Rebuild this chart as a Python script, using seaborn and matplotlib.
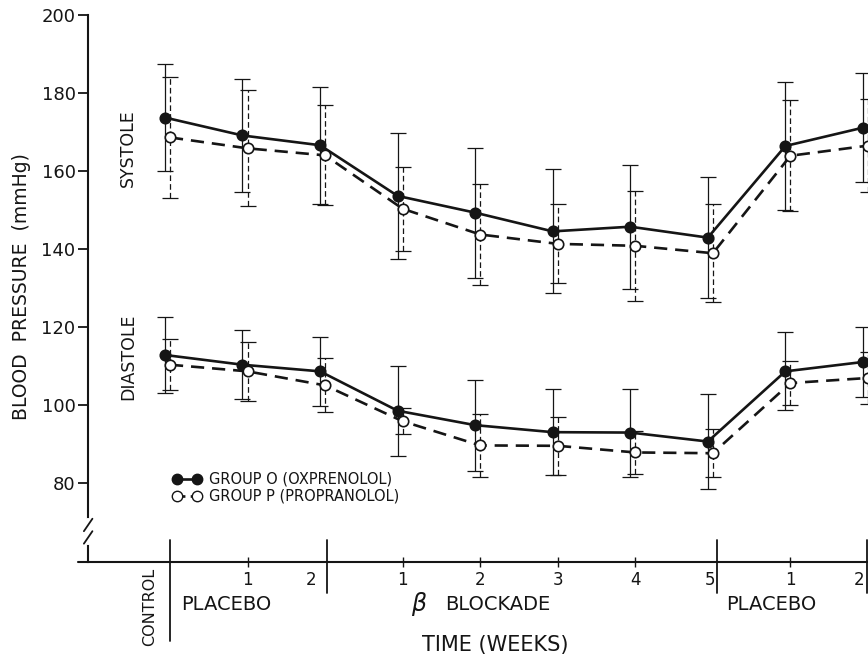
import numpy as np
import pandas as pd
import matplotlib.pyplot as plt
from matplotlib.lines import Line2D
import seaborn as sns

# periods along the time axis: control, placebo 1-2, beta blockade 1-5, placebo 1-2
periods = ['Control', 'Placebo 1', 'Placebo 2', 'Blockade 1', 'Blockade 2',
           'Blockade 3', 'Blockade 4', 'Blockade 5', 'Placebo 1b', 'Placebo 2b']

# systolic pressure (mmHg), mean and SD
sys_o = [173.7, 169.1, 166.6, 153.6, 149.3, 144.5, 145.7, 142.9, 166.4, 171.1]
sys_o_sd = [13.8, 14.6, 15.0, 16.2, 16.7, 15.9, 15.9, 15.6, 16.4, 13.9]
sys_p = [168.6, 165.8, 164.0, 150.3, 143.7, 141.3, 140.8, 138.9, 163.9, 166.5]
sys_p_sd = [15.6, 14.9, 12.8, 10.8, 13.0, 10.1, 14.1, 12.5, 14.2, 11.9]

# diastolic pressure (mmHg), mean and SD
dia_o = [112.8, 110.3, 108.6, 98.5, 94.8, 93.0, 92.9, 90.6, 108.6, 111.0]
dia_o_sd = [9.8, 8.8, 8.9, 11.6, 11.7, 11.0, 11.3, 12.1, 10.0, 9.0]
dia_p = [110.3, 108.6, 105.0, 95.8, 89.6, 89.5, 87.8, 87.6, 105.6, 106.9]
dia_p_sd = [6.5, 7.6, 6.9, 3.3, 8.1, 7.4, 5.6, 6.2, 5.7, 6.7]

yticks = [80, 100, 120, 140, 160, 180, 200]
week_ticks = [1, 3, 4, 5, 6, 8]
week_labels = ['1', '1', '2', '3', '4', '1']

sns.set_style('white')
plt.rcParams['font.family'] = ['DejaVu Sans']
ink = '#151515'

fig = plt.figure(figsize=(8.68, 6.6), dpi=100)
ax = fig.add_axes([88 / 868, 1 - 562 / 660, 1 - 88 / 868, (562 - 15) / 660])

x = np.arange(len(periods))
xo = x - 0.065  # filled points sit a little left of the open ones

df = pd.DataFrame({'x': np.concatenate([xo, x, xo, x]),
                   'bp': sys_o + sys_p + dia_o + dia_p,
                   'sd': sys_o_sd + sys_p_sd + dia_o_sd + dia_p_sd,
                   'group': ['O'] * 10 + ['P'] * 10 + ['O'] * 10 + ['P'] * 10,
                   'phase': ['sys'] * 20 + ['dia'] * 20})

for (phase, group), d in df.groupby(['phase', 'group']):
    solid = group == 'O'
    eb = ax.errorbar(d['x'], d['bp'], yerr=d['sd'], fmt='none', ecolor=ink,
                     elinewidth=0.9, capsize=6, capthick=0.9, zorder=2)
    if not solid:
        eb[2][0].set_linestyle((0, (4.5, 2.5)))
    sns.lineplot(data=d, x='x', y='bp', ax=ax, sort=False, errorbar=None,
                 color=ink, lw=1.9, marker='o', markersize=7.5,
                 markerfacecolor=ink if solid else 'white',
                 markeredgecolor=ink, markeredgewidth=1.2,
                 linestyle='-' if solid else (0, (5, 3)), zorder=3)

ax.set_xlim(-1.057, 9.0)
ax.set_ylim(59.7, 200)
ax.set_xlabel('')
ax.set_ylabel('')
ax.set_yticks(yticks)
ax.tick_params(axis='y', direction='out', length=7, width=1.3, pad=2,
               labelsize=13, colors=ink, left=True)
ax.set_xticks(week_ticks, week_labels)
ax.tick_params(axis='x', direction='inout', length=7, width=1.0, pad=3,
               labelsize=12, colors=ink, bottom=True)
for s in ['top', 'right', 'bottom']:
    ax.spines[s].set_visible(False)
ax.spines['left'].set_color(ink)
ax.spines['left'].set_linewidth(1.5)

# x axis line reaching a bit past the y axis
ax.plot([-1.19, 9.1], [59.7, 59.7], color=ink, lw=1.5, clip_on=False)

# axis break marks
ax.plot([-1.057, -1.057], [64.5, 70.5], color='white', lw=3, clip_on=False, zorder=5)
for yb in [66.0, 69.2]:
    ax.plot([-1.11, -1.0], [yb - 1.6, yb + 1.6], color=ink, lw=1.3, clip_on=False, zorder=6)

# period dividers
ax.plot([0, 0], [65.4, 39.5], color=ink, lw=1.3, clip_on=False)
for xd in [2.02, 7.05, 8.985]:
    ax.plot([xd, xd], [65.4, 51.8], color=ink, lw=1.3, clip_on=False)

# week labels sitting left of the dividers
for xt, lab in [(1.82, '2'), (6.96, '5'), (8.88, '2')]:
    ax.text(xt, 55.2, lab, ha='center', va='center', fontsize=12, color=ink)

ax.text(-0.26, 48.3, 'CONTROL', rotation=90, ha='center', va='center',
        fontsize=11.5, color=ink)
ax.text(0.15, 48.9, 'PLACEBO', ha='left', va='center', fontsize=14, color=ink)
ax.text(3.2, 48.9, 'β', ha='center', va='center', fontsize=17,
        style='italic', color=ink)
ax.text(3.55, 48.9, 'BLOCKADE', ha='left', va='center', fontsize=14, color=ink)
ax.text(7.17, 48.9, 'PLACEBO', ha='left', va='center', fontsize=14, color=ink)
ax.text(4.2, 38.5, 'TIME (WEEKS)', ha='center', va='center', fontsize=15, color=ink)

ax.text(-0.54, 165.9, 'SYSTOLE', rotation=90, ha='center', va='center',
        fontsize=12.5, color=ink)
ax.text(-0.54, 112.3, 'DIASTOLE', rotation=90, ha='center', va='center',
        fontsize=12.5, color=ink)
fig.text(22 / 868, 1 - 287 / 660, 'BLOOD  PRESSURE  (mmHg)', rotation=90,
         ha='center', va='center', fontsize=13.5, color=ink)

handles = [Line2D([0], [0], color=ink, lw=1.9, marker='o', markersize=7.5,
                  markerfacecolor=ink, markeredgecolor=ink),
           Line2D([0], [0], color=ink, lw=1.9, linestyle=(0, (3, 2)), marker='o',
                  markersize=7.5, markerfacecolor='white', markeredgecolor=ink)]
ax.legend(handles, ['GROUP O (OXPRENOLOL)', 'GROUP P (PROPRANOLOL)'],
          numpoints=2, frameon=False, handlelength=2.0, handletextpad=0.5,
          labelspacing=0.15, fontsize=10.5, borderpad=0, borderaxespad=0,
          loc='upper left', bbox_to_anchor=(0.108, 0.165), labelcolor=ink)

fig.savefig('out.png', dpi=100)
